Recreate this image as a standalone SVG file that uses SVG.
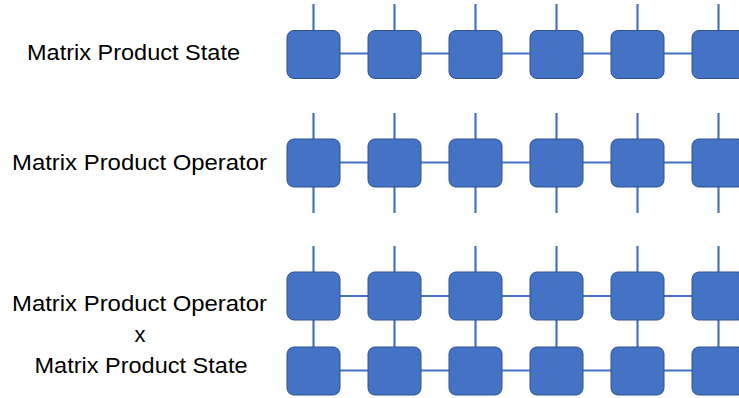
<svg xmlns="http://www.w3.org/2000/svg" width="739" height="398" viewBox="0 0 739 398">
  <style>
    .label { font-family: "Liberation Sans", Arial, sans-serif; font-size: 22px; fill: #000; text-anchor: middle; }
    .bond { stroke: #4472C4; stroke-width: 2.2; fill: none; }
    .tensor { fill: #4472C4; stroke: #2F528F; stroke-width: 1; }
  </style>
  <defs>
    <rect id="t" class="tensor" x="0" y="0" width="53" height="48" rx="7" ry="7"/>
  </defs>

  <!-- labels -->
  <g id="labels">
    <text class="label" x="133.5" y="60" textLength="213" lengthAdjust="spacingAndGlyphs">Matrix Product State</text>
    <text class="label" x="139.5" y="170" textLength="255" lengthAdjust="spacingAndGlyphs">Matrix Product Operator</text>
    <text class="label" x="139.5" y="311" textLength="255" lengthAdjust="spacingAndGlyphs">Matrix Product Operator</text>
    <text class="label" x="140" y="342">x</text>
    <text class="label" x="141" y="373" textLength="213" lengthAdjust="spacingAndGlyphs">Matrix Product State</text>
  </g>

  <!-- bonds between tensors -->
  <g id="connectors">
    <!-- MPS row -->
    <line class="bond" x1="313.5" y1="53.5" x2="739" y2="53.5"/>
    <line class="bond" x1="313.5" y1="4" x2="313.5" y2="30"/>
    <line class="bond" x1="394.5" y1="4" x2="394.5" y2="30"/>
    <line class="bond" x1="475.5" y1="4" x2="475.5" y2="30"/>
    <line class="bond" x1="556.5" y1="4" x2="556.5" y2="30"/>
    <line class="bond" x1="637.5" y1="4" x2="637.5" y2="30"/>
    <line class="bond" x1="718.5" y1="4" x2="718.5" y2="30"/>
    <!-- MPO row -->
    <line class="bond" x1="313.5" y1="162.5" x2="739" y2="162.5"/>
    <line class="bond" x1="313.5" y1="113" x2="313.5" y2="213"/>
    <line class="bond" x1="394.5" y1="113" x2="394.5" y2="213"/>
    <line class="bond" x1="475.5" y1="113" x2="475.5" y2="213"/>
    <line class="bond" x1="556.5" y1="113" x2="556.5" y2="213"/>
    <line class="bond" x1="637.5" y1="113" x2="637.5" y2="213"/>
    <line class="bond" x1="718.5" y1="113" x2="718.5" y2="213"/>
    <!-- MPO x MPS -->
    <line class="bond" x1="313.5" y1="296" x2="739" y2="296"/>
    <line class="bond" x1="313.5" y1="370.5" x2="739" y2="370.5"/>
    <line class="bond" x1="313.5" y1="246" x2="313.5" y2="347"/>
    <line class="bond" x1="394.5" y1="246" x2="394.5" y2="347"/>
    <line class="bond" x1="475.5" y1="246" x2="475.5" y2="347"/>
    <line class="bond" x1="556.5" y1="246" x2="556.5" y2="347"/>
    <line class="bond" x1="637.5" y1="246" x2="637.5" y2="347"/>
    <line class="bond" x1="718.5" y1="246" x2="718.5" y2="347"/>
  </g>

  <!-- MPS tensors -->
  <g id="mps">
    <use href="#t" x="287" y="30.5"/>
    <use href="#t" x="368" y="30.5"/>
    <use href="#t" x="449" y="30.5"/>
    <use href="#t" x="530" y="30.5"/>
    <use href="#t" x="611" y="30.5"/>
    <use href="#t" x="692" y="30.5"/>
  </g>

  <!-- MPO tensors -->
  <g id="mpo">
    <use href="#t" x="287" y="139"/>
    <use href="#t" x="368" y="139"/>
    <use href="#t" x="449" y="139"/>
    <use href="#t" x="530" y="139"/>
    <use href="#t" x="611" y="139"/>
    <use href="#t" x="692" y="139"/>
  </g>

  <!-- MPO acting on MPS -->
  <g id="mpo-x-mps-top">
    <use href="#t" x="287" y="272"/>
    <use href="#t" x="368" y="272"/>
    <use href="#t" x="449" y="272"/>
    <use href="#t" x="530" y="272"/>
    <use href="#t" x="611" y="272"/>
    <use href="#t" x="692" y="272"/>
  </g>
  <g id="mpo-x-mps-bottom">
    <use href="#t" x="287" y="347"/>
    <use href="#t" x="368" y="347"/>
    <use href="#t" x="449" y="347"/>
    <use href="#t" x="530" y="347"/>
    <use href="#t" x="611" y="347"/>
    <use href="#t" x="692" y="347"/>
  </g>
</svg>
